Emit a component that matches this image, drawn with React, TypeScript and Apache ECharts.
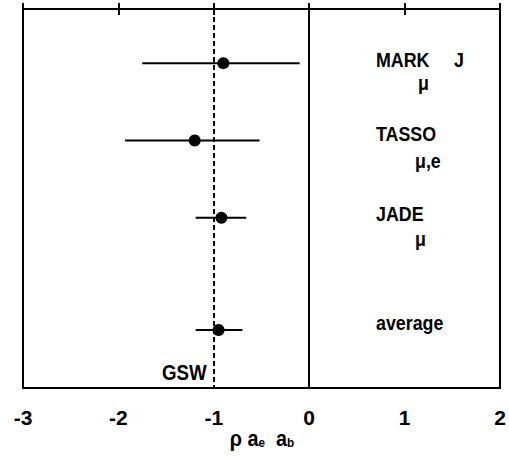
import React, { useEffect, useRef } from "react";
import * as echarts from "echarts";

// Measurements of rho * a_e * a_b per experiment, with their error ranges
const experiments = ["MARK J", "TASSO", "JADE", "average"];
const centralValues = [-0.9, -1.2, -0.92, -0.95];
const lowerValues = [-1.75, -1.93, -1.19, -1.19];
const upperValues = [-0.1, -0.52, -0.66, -0.7];
// vertical row of each measurement on the hidden y scale (0 = top)
const rowPositions = [0.7, 1.7, 2.7, 4.15];
const xTickValues = [-3, -2, -1, 0, 1, 2];
const gswPrediction = -1;

const FONT = "'Liberation Sans', Arial, sans-serif";

export default function App() {
  const ref = useRef<HTMLDivElement>(null);

  useEffect(() => {
    if (!ref.current) return;
    const chart = echarts.init(ref.current, undefined, { renderer: "svg" });

    const points = centralValues.map((v, i) => [v, rowPositions[i], experiments[i]]);
    const bars = centralValues.map((_, i) => [lowerValues[i], upperValues[i], rowPositions[i]]);

    // condensed bold label: a regular bold face squeezed horizontally
    const label = (text: string, x: number, y: number, size = 21) => ({
      type: "text",
      x,
      y,
      scaleX: 0.85,
      style: {
        text,
        fill: "#000",
        font: `bold ${size}px ${FONT}`,
        verticalAlign: "middle",
        align: "left",
      },
    });

    chart.setOption({
      animation: false,
      backgroundColor: "#fff",
      grid: {
        left: 23,
        right: 9,
        top: 9,
        bottom: 71,
        show: true,
        borderColor: "#000",
        borderWidth: 2,
        backgroundColor: "transparent",
      },
      xAxis: [
        {
          type: "value",
          min: xTickValues[0],
          max: xTickValues[xTickValues.length - 1],
          interval: 1,
          position: "bottom",
          axisLine: { show: false },
          axisTick: { show: true, inside: true, length: 6, lineStyle: { color: "#000", width: 2 } },
          splitLine: { show: false },
          axisLabel: {
            show: true,
            margin: 19,
            color: "#000",
            fontFamily: FONT,
            fontWeight: "bold",
            fontSize: 21,
            formatter: (v: number) => String(v),
          },
        },
        {
          type: "value",
          min: xTickValues[0],
          max: xTickValues[xTickValues.length - 1],
          interval: 1,
          position: "top",
          axisLine: { show: false },
          axisTick: { show: true, inside: true, length: 6, lineStyle: { color: "#000", width: 2 } },
          splitLine: { show: false },
          axisLabel: { show: false },
        },
      ],
      yAxis: {
        type: "value",
        min: 0,
        max: 4.9,
        inverse: true,
        axisLine: { show: false },
        axisTick: { show: false },
        axisLabel: { show: false },
        splitLine: { show: false },
      },
      series: [
        {
          type: "custom",
          name: "errors",
          data: bars,
          encode: { x: [0, 1], y: 2 },
          renderItem: (_params: any, api: any) => {
            const a = api.coord([api.value(0), api.value(2)]);
            const b = api.coord([api.value(1), api.value(2)]);
            return {
              type: "line",
              shape: { x1: a[0], y1: a[1], x2: b[0], y2: b[1] },
              style: { stroke: "#000", lineWidth: 2 },
            };
          },
          z: 2,
        },
        {
          type: "scatter",
          name: "measurements",
          data: points,
          symbol: "circle",
          symbolSize: 12,
          itemStyle: { color: "#000", opacity: 1 },
          z: 3,
          markLine: {
            silent: true,
            symbol: "none",
            label: { show: false },
            data: [
              { xAxis: 0, lineStyle: { color: "#000", width: 2, type: "solid" } },
              { xAxis: gswPrediction, lineStyle: { color: "#000", width: 2, type: [5, 3] } },
            ],
          },
        },
      ],
      graphic: [
        label("MARK", 376, 59),
        label("J", 454, 59),
        label("μ", 418, 82),
        label("TASSO", 376, 133),
        label("μ,e", 415, 160),
        label("JADE", 376, 213),
        label("μ", 415, 238),
        label("average", 376, 322),
        label("GSW", 162, 372, 22),
        {
          type: "text",
          x: 262,
          y: 438,
          scaleX: 0.9,
          style: {
            text: "ρ a{s|e}  a{s|b}",
            fill: "#000",
            font: `bold 22px ${FONT}`,
            align: "center",
            verticalAlign: "middle",
            rich: {
              s: { font: `bold 13px ${FONT}`, fill: "#000", padding: [9, 0, 0, 0] },
            },
          },
        },
      ],
    });

    return () => chart.dispose();
  }, []);

  return (
    <div
      ref={ref}
      style={{ position: "fixed", left: 0, top: 0, width: 509, height: 459 }}
    />
  );
}
